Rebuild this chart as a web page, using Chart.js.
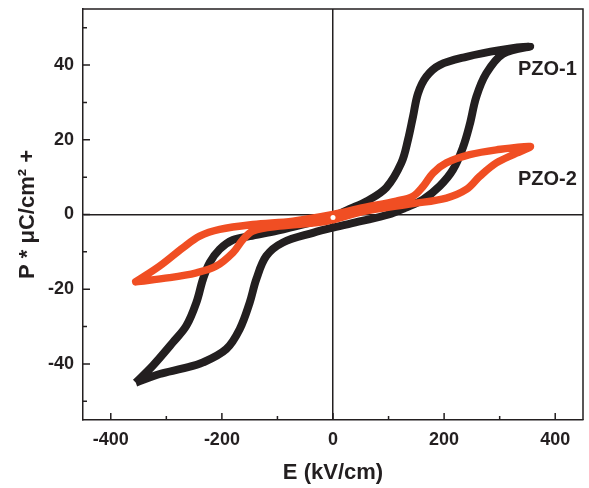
<!DOCTYPE html>
<html>
<head>
<meta charset="utf-8">
<script src="https://cdn.jsdelivr.net/npm/chart.js@4.4.1/dist/chart.umd.min.js"></script>
<style>
  body { margin: 0; background: #fff; }
</style>
</head>
<body>
<canvas id="loopChart" width="589" height="488"></canvas>
<script>
const xTicks = [-400, -200, 0, 200, 400];
const yTicks = [-40, -20, 0, 20, 40];
const xMinorTicks = [-300, -100, 100, 300];
const yMinorTicks = [-50, -30, -10, 10, 30, 50];

const seriesNames = ["PZO-1", "PZO-2"];

// PZO-1: rising branch from -Emax to +Emax, then falling branch back
const pzo1E = [-355, -312, -270, -234, -192, -168, -150, -138, -120, -90, -36, 0, 50, 100, 130, 162, 192, 216, 234, 246, 258, 276, 306, 355,
               300, 240, 192, 168, 153, 144, 135, 123, 96, 60, 30, 0, -50, -100, -150, -180, -204, -222, -234, -246, -264, -288, -324, -355];
const pzo1P = [-45, -42.7, -41.2, -39.6, -36, -30.7, -23.6, -17.3, -11.1, -7.5, -4.9, -3.5, -1.8, 0, 1.8, 4, 7.6, 12, 18, 24, 31.5, 37.8, 43, 45,
               44, 42.2, 40, 36.9, 32.4, 26.2, 20, 13.8, 7.2, 3.5, 1.5, -0.5, -2.5, -4.3, -5.8, -6.8, -9.3, -12.9, -17.3, -23.6, -29.8, -34.2, -40.4, -45];

// PZO-2
const pzo2E = [-355, -294, -246, -210, -180, -162, -144, -96, -12, 54, 144, 204, 240, 264, 294, 330, 355,
               294, 246, 204, 180, 162, 144, 114, 54, 0, -72, -144, -204, -240, -270, -312, -355];
const pzo2P = [-18, -16.9, -15.6, -13.8, -10.2, -6.7, -4.4, -3.1, -1.8, 0.8, 2.9, 4.4, 6.7, 10.2, 13.8, 16.4, 18.2,
               17.3, 16, 13.8, 11.1, 7.5, 4.9, 3.6, 1.8, 0, -1.8, -2.7, -4, -5.8, -8.9, -13.8, -18];

const originE = [0];
const originP = [-0.8];

function toPoints(xs, ys) {
    return xs.map((x, i) => ({ x: x, y: ys[i] }));
}

const ink = "#231f20";
const fontFamily = "'Liberation Sans', Arial, sans-serif";

const framePlugin = {
    id: "frame",
    beforeDatasetsDraw(chart) {
        const ctx = chart.ctx;
        const area = chart.chartArea;
        const xs = chart.scales.x;
        const ys = chart.scales.y;
        ctx.save();
        ctx.strokeStyle = ink;
        ctx.lineWidth = 1.5;
        // top and right frame
        ctx.beginPath();
        ctx.moveTo(area.left, area.top);
        ctx.lineTo(area.right, area.top);
        ctx.lineTo(area.right, area.bottom);
        ctx.stroke();
        // inward ticks
        ctx.beginPath();
        xTicks.forEach(v => {
            const px = xs.getPixelForValue(v);
            ctx.moveTo(px, area.bottom);
            ctx.lineTo(px, area.bottom - 7);
        });
        xMinorTicks.forEach(v => {
            const px = xs.getPixelForValue(v);
            ctx.moveTo(px, area.bottom);
            ctx.lineTo(px, area.bottom - 4);
        });
        yTicks.forEach(v => {
            const py = ys.getPixelForValue(v);
            ctx.moveTo(area.left, py);
            ctx.lineTo(area.left + 7, py);
        });
        yMinorTicks.forEach(v => {
            const py = ys.getPixelForValue(v);
            ctx.moveTo(area.left, py);
            ctx.lineTo(area.left + 4, py);
        });
        ctx.stroke();
        ctx.restore();
    },
    afterDatasetsDraw(chart) {
        const ctx = chart.ctx;
        const xs = chart.scales.x;
        const ys = chart.scales.y;
        const labelSpots = [[333, 38.7], [333, 9.5]];
        ctx.save();
        ctx.fillStyle = ink;
        ctx.font = "bold 20px " + fontFamily;
        ctx.textAlign = "left";
        ctx.textBaseline = "middle";
        seriesNames.forEach((name, i) => {
            ctx.fillText(name, xs.getPixelForValue(labelSpots[i][0]), ys.getPixelForValue(labelSpots[i][1]));
        });
        ctx.restore();
    }
};

new Chart(document.getElementById("loopChart"), {
    type: "scatter",
    data: {
        datasets: [
            {
                label: "origin",
                data: toPoints(originE, originP),
                pointRadius: 2.5,
                pointBackgroundColor: "#ffffff",
                pointBorderWidth: 0
            },
            {
                label: seriesNames[1],
                data: toPoints(pzo2E, pzo2P),
                showLine: true,
                borderColor: "#f04e23",
                borderWidth: 7.5,
                borderCapStyle: "round",
                borderJoinStyle: "round",
                tension: 0.35,
                pointRadius: 0
            },
            {
                label: seriesNames[0],
                data: toPoints(pzo1E, pzo1P),
                showLine: true,
                borderColor: ink,
                borderWidth: 8,
                borderCapStyle: "butt",
                borderJoinStyle: "bevel",
                tension: 0.35,
                pointRadius: 0
            }
        ]
    },
    options: {
        responsive: false,
        animation: false,
        events: [],
        layout: { padding: { top: 9, right: 6, left: 0, bottom: 0 } },
        plugins: {
            legend: { display: false },
            tooltip: { enabled: false }
        },
        scales: {
            x: {
                type: "linear",
                min: -450,
                max: 450,
                afterBuildTicks: scale => { scale.ticks = xTicks.map(v => ({ value: v })); },
                afterFit: scale => {
                    scale.height = 68;
                    scale.paddingLeft = 0;
                    scale.paddingRight = 0;
                },
                ticks: {
                    padding: 9,
                    color: ink,
                    font: { family: fontFamily, size: 18, weight: "bold" }
                },
                grid: {
                    drawTicks: false,
                    lineWidth: 1.5,
                    color: c => (c.tick && c.tick.value === 0 ? ink : "rgba(0,0,0,0)")
                },
                border: { display: true, color: ink, width: 1.5 },
                title: {
                    display: true,
                    text: "E (kV/cm)",
                    color: ink,
                    padding: { top: 0, bottom: 2 },
                    font: { family: fontFamily, size: 22, weight: "bold" }
                }
            },
            y: {
                type: "linear",
                min: -55,
                max: 55,
                afterBuildTicks: scale => { scale.ticks = yTicks.map(v => ({ value: v })); },
                afterFit: scale => {
                    scale.width = 83;
                    scale.paddingTop = 0;
                    scale.paddingBottom = 0;
                },
                ticks: {
                    padding: 9,
                    color: ink,
                    font: { family: fontFamily, size: 18, weight: "bold" }
                },
                grid: {
                    drawTicks: false,
                    lineWidth: 1.5,
                    color: c => (c.tick && c.tick.value === 0 ? ink : "rgba(0,0,0,0)")
                },
                border: { display: true, color: ink, width: 1.5 },
                title: {
                    display: true,
                    text: "P * μC/cm² +",
                    color: ink,
                    padding: { top: 15, bottom: 0 },
                    font: { family: fontFamily, size: 22, weight: "bold" }
                }
            }
        }
    },
    plugins: [framePlugin]
});
</script>
</body>
</html>
